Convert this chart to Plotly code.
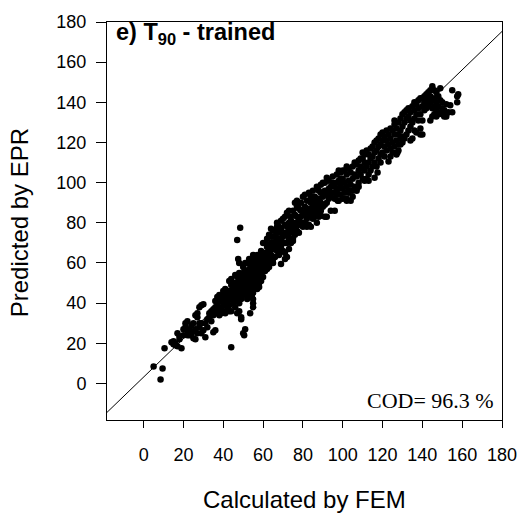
import plotly.graph_objects as go

# (Calculated by FEM, Predicted by EPR) pairs
points = [
    (5, 8.5), (8.5, 2), (9.5, 7.5), (10.5, 17.5),
    (14, 20.5), (15, 21), (16, 19), (17, 18.5), (16, 20), (18, 23.5), (19, 17.5), (17, 25),
    (15, 19.5), (18, 22), (20, 24), (20, 27),
    (21, 28), (21, 30), (22, 31), (22, 26), (23, 24), (23, 27), (24, 25), (25, 22.5), (25, 26),
    (26, 22), (26, 34), (27, 33), (27, 35), (28, 38), (28, 30), (29, 39), (30, 39.5), (27, 25),
    (29, 25), (30, 26.5), (31, 23), (29, 30), (24, 29), (22, 24), (26, 27), (28, 28), (25, 30),
    (32, 32), (33, 33), (33, 35), (34, 36), (35, 34), (35, 25.5), (36, 26.5), (36, 38), (36, 41),
    (37, 43), (37, 40), (38, 44), (38, 38), (39, 35), (39, 37), (40, 39), (40, 46), (40, 36),
    (34, 31), (31, 30), (32, 28), (38, 34), (37, 36), (35, 37), (39, 41), (36, 35),
    (41, 47), (41, 40), (42, 41), (42, 44), (43, 42), (43, 51), (44, 52), (44, 45), (45, 46),
    (45, 43), (45, 47), (46, 38), (46, 44), (46, 54), (47, 48), (47, 50), (47, 44), (48, 46),
    (48, 55), (48, 52), (49, 50), (49, 48), (49, 42), (49, 33), (49, 32), (50, 44), (50, 49),
    (50, 55), (50, 58), (50, 25), (51, 27), (51, 47), (51, 52), (52, 45), (52, 42), (42, 37),
    (43, 36), (44, 36), (41, 35), (45, 40), (47, 41), (48, 40), (44, 49), (46, 50), (48, 36),
    (47, 35), (44, 18), (48.5, 77.5), (47, 71.5), (47.5, 62), (48, 60), (50.5, 24), (53.5, 35),
    (43, 46), (46, 47), (48, 49), (49, 53), (51, 56), (42, 39), (44, 42),
    (40, 43), (41, 44), (43, 39), (45, 50), (46, 41), (47, 53), (49, 45), (50, 52), (51, 50),
    (52, 56), (52, 60), (53, 48), (53, 50), (53, 54), (54, 46), (54, 52), (54, 58), (55, 42),
    (55, 40), (55, 45), (56, 50), (56, 55), (56, 60), (56, 62), (57, 52), (57, 58), (57, 64),
    (58, 57), (58, 60), (58, 48), (58, 50), (59, 62), (59, 66), (59, 55), (60, 58), (60, 63),
    (60, 70), (51, 60), (52, 53), (53, 62), (55, 64), (57, 47), (55, 38), (54, 56), (57, 55),
    (59, 51), (60, 53), (55, 58), (58, 64),
    (52, 49), (53, 57), (54, 61), (55, 53), (56, 47), (56, 57), (57, 61), (58, 54), (59, 59),
    (60, 61), (53, 44), (54, 49),
    (61, 60), (61, 65), (61, 70), (62, 62), (62, 68), (62, 72), (63, 58), (63, 66), (63, 74),
    (64, 64), (64, 70), (64, 77), (65, 60), (65, 67), (65, 73), (66, 63), (66, 70), (66, 76),
    (67, 66), (67, 72), (67, 80), (68, 64), (68, 70), (68, 75), (69, 59.5), (69, 68), (69, 77),
    (70, 66), (70, 73), (70, 82), (61, 56), (62, 57), (63, 61), (65, 62), (67, 75), (69, 81),
    (60, 65), (64, 73), (66, 67), (68, 78), (62, 65),
    (61, 63), (62, 60), (63, 69), (64, 67), (65, 70), (66, 73), (67, 69), (68, 67), (69, 72),
    (70, 70), (65, 76), (67, 78),
    (71, 65), (71, 70), (71, 75), (71, 83), (72, 70), (72, 78), (72, 85), (73, 72), (73, 80),
    (73, 86), (74, 75), (74, 78), (74, 83), (75, 72), (75, 80), (75, 86), (76, 74), (76, 79),
    (76, 84), (77, 76), (77, 80), (77, 91), (78, 79), (78, 82), (78, 87), (79, 83), (79, 90),
    (80, 78), (80, 80), (80, 85), (80, 93), (72, 63), (75, 77), (77, 88), (79, 79), (78, 75),
    (74, 70), (76, 90), (73, 67), (71, 62), (75, 71),
    (72, 74), (73, 77), (74, 81), (76, 77), (77, 83), (79, 86), (71, 79), (78, 90),
    (81, 80), (81, 88), (81, 94), (82, 82), (82, 78), (82, 91), (83, 84), (83, 87), (83, 95),
    (84, 85), (84, 90), (84, 78), (85, 82), (85, 88), (85, 96), (86, 86), (86, 93), (86, 83),
    (87, 85), (87, 90), (87, 98), (88, 88), (88, 92), (88, 83), (89, 86), (89, 95), (89, 99),
    (90, 88), (90, 93), (90, 100), (81, 84), (83, 79), (85, 91), (87, 80), (89, 90), (89, 83.5),
    (82, 86), (84, 93), (86, 89), (88, 96),
    (91, 89), (91, 96), (91, 100), (92, 90), (92, 94), (92, 83), (93, 92), (93, 97), (93, 101),
    (94, 86), (94, 93), (94, 98), (95, 95), (95, 100), (95, 103), (96, 86), (96, 92), (96, 98),
    (97, 96), (97, 100), (97, 104), (98, 91), (98, 97), (98, 101), (99, 94), (99, 99), (99, 105),
    (100, 92), (100, 97), (100, 102), (100, 106), (91, 83), (93, 95), (97, 94), (98, 106),
    (99, 102), (92, 102.5), (97.5, 91),
    (101, 95), (101, 100), (101, 106), (102, 92), (102, 98), (102, 104), (102, 108), (103, 96),
    (103, 101), (103, 107), (104, 91), (104, 99), (104, 105), (105, 96), (105, 102), (105, 108),
    (106, 98), (106, 104), (106, 110), (107, 96), (107, 103), (107, 109), (108, 100), (108, 106),
    (108, 111), (109, 104), (109, 108), (110, 102), (110, 107), (110, 112), (103, 95), (105, 93),
    (108, 98), (109, 112), (107, 97), (102, 91),
    (111, 101), (111, 106), (111, 110), (111, 114), (112, 102), (112, 108), (112, 116), (113, 104),
    (113, 110), (113, 114), (114, 106), (114, 112), (114, 117), (115, 108), (115, 113), (115, 118),
    (116, 110), (116, 115), (116, 120), (117, 108), (117, 116), (117, 121), (118, 112), (118, 118),
    (118, 122), (119, 114), (119, 119), (119, 124), (120, 115), (120, 121), (120, 125), (113, 101),
    (116, 102.5), (117.5, 105), (119, 110), (110, 115),
    (121, 113), (121, 118), (121, 123), (122, 116), (122, 121), (122, 126), (123, 110.5), (123, 119),
    (123, 124), (124, 117), (124, 122), (124, 127), (125, 115), (125, 120), (125, 126), (126, 118),
    (126, 124), (126, 129), (127, 114), (127, 121), (127, 127), (128, 116), (128, 124), (128, 130),
    (129, 119), (129, 126), (129, 132), (130, 120), (130, 128), (130, 134), (124, 113), (127.5, 115),
    (128, 119), (129, 122), (126, 131), (130, 123),
    (131, 122), (131, 130), (131, 135), (132, 124), (132, 132), (132, 136), (133, 126), (133, 133),
    (133, 137), (134, 121), (134, 128), (134, 135), (135, 122), (135, 130), (135, 138), (136, 132),
    (136, 136), (136, 140), (137, 125), (137, 134), (137, 139), (138, 131), (138, 137), (138, 141),
    (139, 127), (139, 134), (139, 142), (140, 124), (140, 131), (140, 138), (140, 142), (134, 131),
    (136, 126), (139, 124),
    (141, 136), (141, 140), (141, 143), (142, 137), (142, 141), (142, 144), (143, 138), (143, 142),
    (143, 145), (144, 131), (144, 140), (144, 143), (145, 133), (145, 137), (145, 141), (145, 148),
    (146, 134), (146, 138), (146, 142), (146, 146), (147, 133), (147, 136), (147, 140), (147, 145),
    (148, 134), (148, 138), (148, 143), (149, 135), (149, 141), (149, 147), (150, 134), (150, 137),
    (150, 140), (144, 146),
    (151, 133), (151, 136), (152, 134), (152, 139), (153, 135), (154, 138.5), (155, 146),
    (157.5, 140), (157.5, 143), (158, 144), (155, 135), (152, 133),
]
calculated_fem = [p[0] for p in points]
predicted_epr = [p[1] for p in points]

ref_line_x = [-18.4, 180]
ref_line_y = [-14.4, 175.3]

tick_vals = [0, 20, 40, 60, 80, 100, 120, 140, 160, 180]

fig = go.Figure()
fig.add_trace(go.Scatter(x=ref_line_x, y=ref_line_y, mode="lines",
                         line=dict(color="black", width=1), hoverinfo="skip"))
fig.add_trace(go.Scatter(x=calculated_fem, y=predicted_epr, mode="markers",
                         marker=dict(color="black", size=6.5, line=dict(width=0))))

axis_common = dict(
    showline=True, linecolor="black", linewidth=1, mirror=True,
    showgrid=False, zeroline=False, ticks="outside", tickcolor="black",
    tickvals=tick_vals, tickfont=dict(family="Liberation Sans, Arial", size=18, color="black"),
)
fig.update_xaxes(range=[-18.4, 180], ticklen=7, ticklabelstandoff=11, **axis_common)
fig.update_yaxes(range=[-18.2, 180], ticklen=10, ticklabelstandoff=6, **axis_common)

fig.update_layout(
    width=529, height=516,
    margin=dict(l=107, r=24, t=17, b=96),
    plot_bgcolor="white", paper_bgcolor="white",
    showlegend=False,
    annotations=[
        dict(text="<b>e) T<sub>90</sub> - trained</b>", xref="paper", yref="paper",
             x=0.018, y=0.972, xanchor="left", yanchor="middle", showarrow=False,
             font=dict(family="Liberation Sans, Arial", size=23.5, color="black")),
        dict(text="COD= 96.3 %", xref="paper", yref="paper",
             x=0.985, y=0.05, xanchor="right", yanchor="middle", showarrow=False,
             font=dict(family="Liberation Serif, Times New Roman", size=22, color="black")),
        dict(text="Calculated by FEM", xref="paper", yref="paper",
             x=0.5, y=-0.1985, xanchor="center", yanchor="middle", showarrow=False,
             font=dict(family="Liberation Sans, Arial", size=24, color="black")),
        dict(text="Predicted by EPR", xref="paper", yref="paper", textangle=-90,
             x=-0.221, y=0.496, xanchor="center", yanchor="middle", showarrow=False,
             font=dict(family="Liberation Sans, Arial", size=24, color="black")),
    ],
)

fig.write_html("out.html")
